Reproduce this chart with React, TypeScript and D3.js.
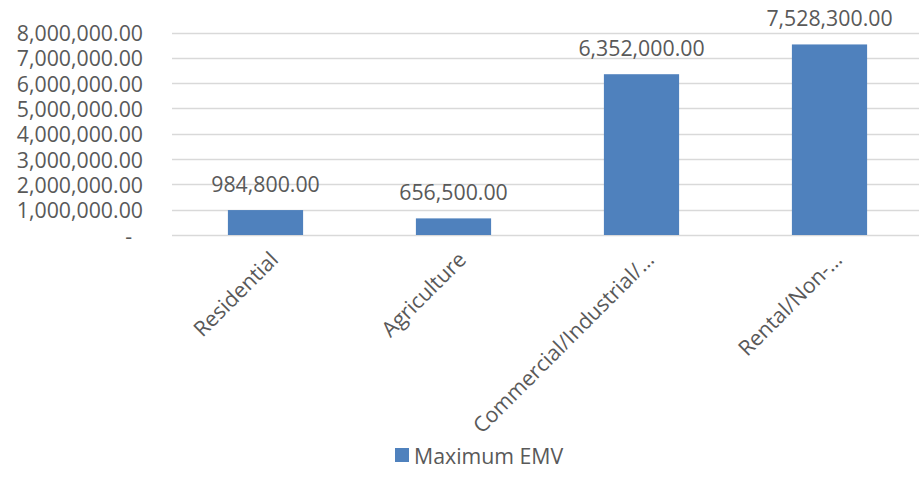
import React from "react";
import * as d3 from "d3";

const categories = ["Residential", "Agriculture", "Commercial/Industrial/…", "Rental/Non-…"];
const values = [984800, 656500, 6352000, 7528300];
const yTicks = [0, 1000000, 2000000, 3000000, 4000000, 5000000, 6000000, 7000000, 8000000];
const seriesName = "Maximum EMV";

const W = 919;
const H = 479;
const FONT = "'Open Sans', sans-serif";
const TEXT = "#595959";
const BAR = "#4F81BD";
const GRID = "#D9D9D9";

export default function App() {
  const x = d3.scaleBand<string>().domain(categories).range([171.5, 923.5]).padding(0);
  const y = d3.scaleLinear().domain([0, 8000000]).range([235, 32.5]);
  const fmt = d3.format(",.2f");
  const barW = x.bandwidth() * 0.4;

  return (
    <svg width={W} height={H} style={{ position: "absolute", left: 0, top: 0, background: "#fff" }} fontFamily={FONT}>
      {yTicks.map((t) => (
        <line key={"g" + t} x1={172} x2={W} y1={Math.round(y(t)) + 0.5} y2={Math.round(y(t)) + 0.5} stroke={GRID} strokeWidth={1.3} />
      ))}
      {yTicks.map((t) => (
        <text
          key={"t" + t}
          x={t === 0 ? 132 : 143}
          y={y(t)}
          textAnchor="end"
          dominantBaseline="central"
          fontSize={21.3}
          fill={TEXT}
        >
          {t === 0 ? "-" : fmt(t)}
        </text>
      ))}
      {categories.map((c, i) => {
        const cx = (x(c) as number) + x.bandwidth() / 2;
        return (
          <g key={c}>
            <rect x={cx - barW / 2} y={y(values[i])} width={barW} height={y(0) - y(values[i])} fill={BAR} />
            <text x={cx} y={y(values[i]) - 18} textAnchor="middle" fontSize={21.3} fill={TEXT}>
              {fmt(values[i])}
            </text>
            <text
              transform={`translate(${cx + 8},${255}) rotate(-45)`}
              textAnchor="end"
              dominantBaseline="central"
              fontSize={21.3}
              fill={TEXT}
            >
              {c}
            </text>
          </g>
        );
      })}
      <rect x={395} y={448} width={14} height={14} fill={BAR} />
      <text x={414} y={455} dominantBaseline="central" fontSize={21.3} fill={TEXT}>
        {seriesName}
      </text>
    </svg>
  );
}
